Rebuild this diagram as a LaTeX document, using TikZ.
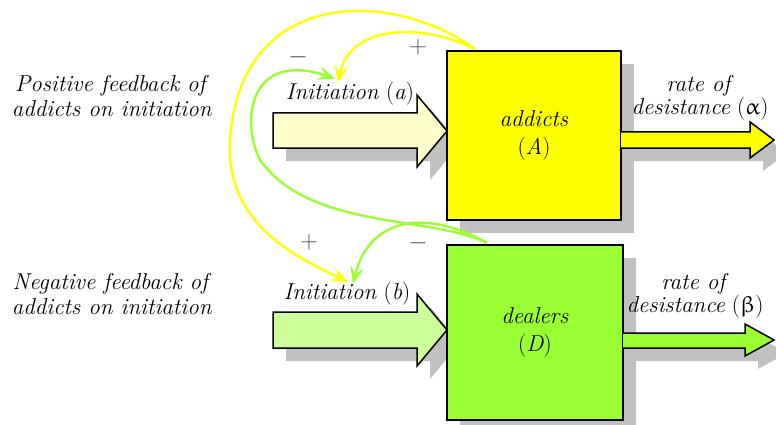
\documentclass[tikz,border=0pt]{standalone}
\usepackage{upgreek}
\usetikzlibrary{arrows.meta,shadows}

\definecolor{addictyellow}{HTML}{FFFF00}
\definecolor{dealergreen}{HTML}{99FF33}
\definecolor{paleyellow}{HTML}{FFFFCC}
\definecolor{palegreen}{HTML}{CCFF99}
\definecolor{shadowgray}{HTML}{C0C0C0}

\begin{document}
\begin{tikzpicture}[x=1pt,y=-1pt,>={Stealth[length=17pt,width=14pt,inset=7pt]},
  dropgray/.style={drop shadow={shadow xshift=13pt,shadow yshift=-13pt,fill=shadowgray,opacity=1}},
  fatarrow/.style={draw=black,line width=1.5pt,line join=miter,dropgray},
  stock/.style={draw=black,line width=1.5pt,dropgray,inner sep=0pt,align=center,
    font=\fontsize{23}{28}\selectfont},
  lbl/.style={inner sep=0pt,align=center,font=\fontsize{23}{25}\selectfont},
  rate/.style={inner sep=0pt,align=center,font=\fontsize{23}{20}\selectfont},
  sign/.style={inner sep=0pt,text=black!70,font=\fontsize{24}{24}\selectfont},
  loop/.style={line width=2.4pt,->}]
  \useasboundingbox (0,0) rectangle (776,425);
  % inflows
  \draw[fatarrow,fill=paleyellow] (273,113)--(417,113)--(417,95)--(447,131)--(417,167)--(417,148)--(273,148)--cycle;
  \draw[fatarrow,fill=palegreen] (273,312)--(417,312)--(417,294)--(447,330)--(417,366)--(417,348)--(273,348)--cycle;
  % stocks
  \node[stock,fill=addictyellow,minimum width=174pt,minimum height=169pt] (addicts) at (534,135.5)
    {\textit{addicts}\\(\textit{A})};
  \node[stock,fill=dealergreen,minimum width=176pt,minimum height=175pt] (dealers) at (535,332.5)
    {\textit{dealers}\\(\textit{D})};
  % outflows
  \draw[fatarrow,fill=addictyellow] (621,132)--(750,132)--(750,122)--(774,140)--(750,158)--(750,148)--(621,148);
  \draw[fatarrow,fill=dealergreen] (623,333)--(745,333)--(745,324)--(774,340)--(745,356)--(745,348)--(623,348);
  % labels
  \node[lbl] (posfb) at (112,96) {\textit{Positive feedback of}\\\textit{addicts on initiation}};
  \node[lbl] (negfb) at (112,294) {\textit{Negative feedback of}\\\textit{addicts on initiation}};
  \node[lbl,anchor=base] (inita) at (350,100) {\textit{Initiation} (\textit{a})};
  \node[lbl,anchor=base] (initb) at (347,299) {\textit{Initiation} (\textit{b})};
  \node[rate] (outa) at (700,98) {\textit{rate of}\\\textit{desistance} ($\upalpha$)};
  \node[rate] (outb) at (695,296) {\textit{rate of}\\\textit{desistance} ($\upbeta$)};
  % feedback loops
  \coordinate (atop) at (475,49);
  \coordinate (dtop) at (487,243);
  \draw[loop,addictyellow] (atop) .. controls (390,-12) and (240,-12) .. (230,140)
    .. controls (225,220) and (290,255) .. ([xshift=1pt]initb.north);
  \draw[loop,addictyellow] (atop) .. controls (420,22) and (350,25) .. ([xshift=-12pt]inita.north);
  \draw[loop,dealergreen] (dtop) .. controls (430,215) and (310,230) .. (260,160)
    .. controls (240,120) and (250,50) .. ([xshift=-15pt,yshift=4pt]inita.north);
  \draw[loop,dealergreen] (dtop) .. controls (430,210) and (370,215) .. ([xshift=6pt,yshift=-2pt]initb.north);
  % signs
  \node[sign] (sa1) at (298,57) {$-$};
  \node[sign] (sa2) at (418,47) {$+$};
  \node[sign] (sb1) at (309,242) {$+$};
  \node[sign] (sb2) at (418,243) {$-$};
\end{tikzpicture}
\end{document}
